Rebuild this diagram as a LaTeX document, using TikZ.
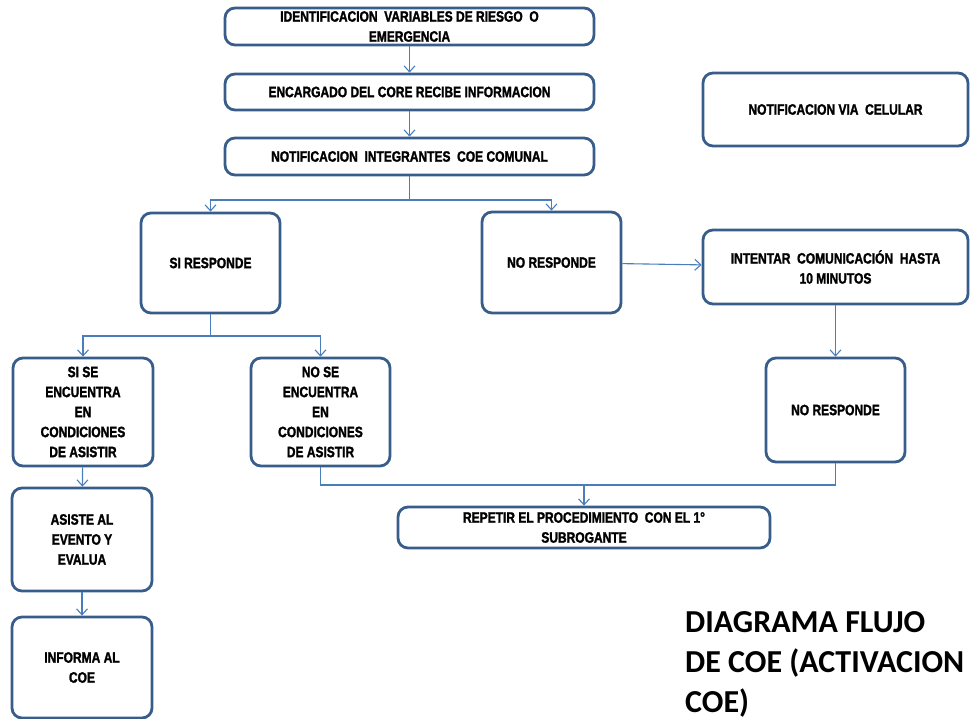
\documentclass[tikz,border=0pt]{standalone}
\usepackage{fontspec}
\setmainfont{Liberation Sans}
\newfontfamily\cajafont[FakeStretch=0.8,FakeBold=1.6]{Liberation Sans}
\newfontfamily\titlefont{Carlito}
\usetikzlibrary{arrows.meta}
\definecolor{borde}{RGB}{56,93,138}
\definecolor{linea}{RGB}{74,126,187}

\begin{document}
\begin{tikzpicture}[x=1pt,y=-1pt,
  caja/.style={draw=borde, line width=2.8pt, rounded corners=10pt, align=center, inner sep=2pt,
    font=\cajafont\bfseries\fontsize{15}{20}\selectfont},
  flecha/.style={draw=linea, line width=1.1pt},
  >={Straight Barb[length=6pt,width=11pt]}]
\useasboundingbox (0,0) rectangle (970,719);

\node[caja, minimum width=369pt, minimum height=37pt] (ident) at (409.5,26.5) {IDENTIFICACION~ VARIABLES DE RIESGO~ O\\EMERGENCIA};
\node[caja, minimum width=369pt, minimum height=36pt] (encarg) at (409.5,92) {ENCARGADO DEL CORE RECIBE INFORMACION};
\node[caja, minimum width=369pt, minimum height=37pt] (notif) at (409.5,156.5) {NOTIFICACION~ INTEGRANTES~ COE COMUNAL};
\node[caja, minimum width=265pt, minimum height=73pt] (celular) at (835.5,109.5) {NOTIFICACION VIA~ CELULAR};

\node[caja, minimum width=139pt, minimum height=100pt] (siresp) at (210.5,263) {SI RESPONDE};
\node[caja, minimum width=139pt, minimum height=101pt] (noresp) at (551.5,262.5) {NO RESPONDE};
\node[caja, minimum width=265pt, minimum height=74pt] (intentar) at (835.5,267) {INTENTAR~ COMUNICACIÓN~ HASTA\\10 MINUTOS};
\node[caja, minimum width=139pt, minimum height=104pt] (noresp2) at (835.5,410) {NO RESPONDE};

\node[caja, minimum width=140pt, minimum height=108pt] (sise) at (83,412) {SI SE\\ENCUENTRA\\EN\\CONDICIONES\\DE ASISTIR};
\node[caja, minimum width=139pt, minimum height=108pt] (nose) at (320.5,412) {NO SE\\ENCUENTRA\\EN\\CONDICIONES\\DE ASISTIR};
\node[caja, minimum width=372pt, minimum height=41pt] (repetir) at (584,527.5) {REPETIR EL PROCEDIMIENTO~ CON EL 1°\\SUBROGANTE};
\node[caja, minimum width=140pt, minimum height=103pt] (asiste) at (82,539.5) {ASISTE AL\\EVENTO Y\\EVALUA};
\node[caja, minimum width=140pt, minimum height=101pt] (informa) at (82,667.5) {INFORMA AL\\COE};

\node[anchor=north west, align=left, inner sep=0pt, font=\titlefont\bfseries\fontsize{32}{40}\selectfont] (titulo) at (685,611) {DIAGRAMA FLUJO\\DE COE (ACTIVACION\\COE)};

% conectores
\coordinate (b1) at (409.5,200);
\coordinate (b2) at (210.5,336);
\coordinate (b3) at (584,485);
\path[flecha,->] (ident) -- (encarg);
\path[flecha,->] (encarg) -- (notif);
\path[flecha] (notif) -- (b1);
\path[flecha,->] (b1) -| (siresp.north);
\path[flecha,->] (b1) -| (noresp.north);
\path[flecha,->] (noresp) -- (intentar);
\path[flecha,->] (intentar) -- (noresp2);
\path[flecha] (siresp) -- (b2);
\path[flecha,->] (b2) -| (sise.north);
\path[flecha,->] (b2) -| (nose.north);
\path[flecha,->] (sise) -- (asiste);
\path[flecha,->] (asiste) -- (informa);
\path[flecha] (nose.south) |- (b3);
\path[flecha] (noresp2.south) |- (b3);
\path[flecha,->] (b3) -- (repetir);
\end{tikzpicture}
\end{document}
